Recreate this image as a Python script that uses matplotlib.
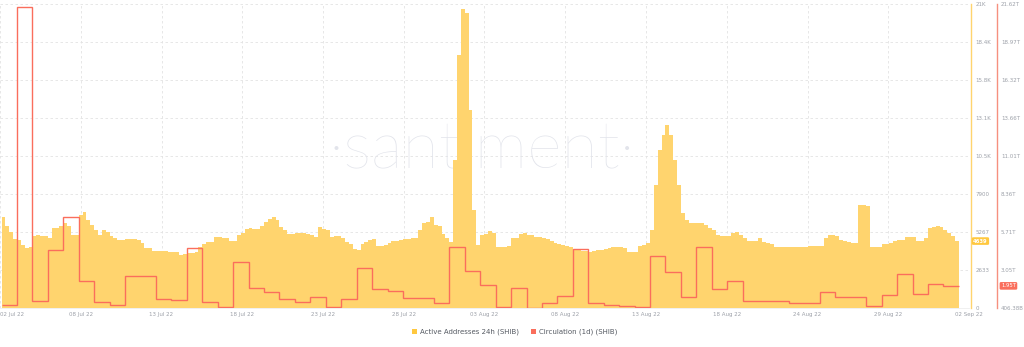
import matplotlib
matplotlib.use("Agg")
import matplotlib.pyplot as plt
import numpy as np
from matplotlib.patches import Rectangle

# ---------------- data ----------------
x_tick_labels = ["02 Jul 22", "08 Jul 22", "13 Jul 22", "18 Jul 22", "23 Jul 22", "28 Jul 22",
                 "03 Aug 22", "08 Aug 22", "13 Aug 22", "18 Aug 22", "24 Aug 22", "29 Aug 22",
                 "02 Sep 22"]

aa_tick_labels = ["0", "2633", "5267", "7900", "10.5K", "13.1K", "15.8K", "18.4K", "21K"]
circ_tick_labels = ["406.38B", "3.05T", "5.71T", "8.36T", "11.01T", "13.66T", "16.32T", "18.97T", "21.62T"]

# Active Addresses 24h (SHIB), 6-hour bars (4 per day, 62 days)
active_addresses = [
    6300, 5650, 5270, 4780,   4710, 4370, 4160, 4230,   4990, 5060, 4990, 4990,
    4850, 5540, 5540, 5680,   5890, 5680, 5060, 5060,   6450, 6650, 6100, 5750,
    5400, 5060, 5400, 5270,   4990, 4850, 4710, 4710,   4780, 4780, 4780, 4710,
    4500, 4160, 4160, 3950,   3950, 3950, 3950, 3880,   3880, 3880, 3670, 3740,
    3810, 3810, 3880, 4230,   4440, 4570, 4570, 4920,   4920, 4850, 4850, 4640,
    4640, 5060, 5200, 5470,   5540, 5470, 5470, 5680,   5960, 6170, 6310, 6100,
    5610, 5400, 5130, 5130,   5200, 5200, 5200, 5130,   5060, 4920, 5610, 5470,
    5400, 4920, 4990, 4990,   4850, 4570, 4440, 4090,   4020, 4440, 4570, 4710,
    4780, 4300, 4300, 4370,   4500, 4640, 4640, 4710,   4780, 4780, 4850, 4850,
    5400, 5890, 5960, 6310,   5750, 5680, 5130, 4850,   4570, 10260, 17530, 20720,
    20440, 13720, 6790, 4370, 5060, 5130, 5340, 5200,   4230, 4230, 4230, 4300,
    4850, 4850, 5130, 5200,   5060, 5060, 4920, 4920,   4850, 4780, 4640, 4500,
    4440, 4370, 4300, 4230,   4090, 4020, 3950, 3950,   3880, 3950, 4020, 4020,
    4090, 4160, 4230, 4230,   4230, 4160, 3880, 3880,   3880, 4300, 4370, 4500,
    5400, 8520, 10950, 11990, 12680, 11990, 10260, 8520, 6580, 6100, 5890, 5890,
    5890, 5890, 5750, 5540,   5400, 5060, 4990, 4990,   4990, 5200, 5270, 5060,
    4850, 4640, 4640, 4640,   4850, 4570, 4500, 4440,   4230, 4230, 4230, 4230,
    4230, 4230, 4230, 4230,   4230, 4300, 4300, 4300,   4300, 4850, 5060, 5060,
    4990, 4710, 4640, 4570,   4500, 4500, 7140, 7140,   7070, 4230, 4230, 4230,
    4440, 4440, 4500, 4640,   4710, 4710, 4920, 4920,   4920, 4640, 4640, 4850,
    5540, 5610, 5680, 5610,   5400, 5200, 4990, 4639,
]

# Circulation (1d) (SHIB), in trillions, one value per day
circulation_T = [
    0.62, 21.40, 0.90, 4.45, 6.75, 2.29, 0.83, 0.62, 2.64, 2.64,
    1.03, 0.96, 4.59, 0.83, 0.48, 3.61, 1.80, 1.52, 1.03, 0.83,
    1.17, 0.48, 1.03, 3.20, 1.73, 1.59, 1.10, 1.10, 0.76, 4.66,
    2.99, 2.01, 0.48, 1.80, 0.41, 0.76, 1.24, 4.52, 0.76, 0.62,
    0.55, 0.48, 4.03, 2.92, 1.17, 4.66, 1.73, 2.29, 0.90, 0.90,
    0.90, 0.76, 0.76, 1.52, 1.17, 1.17, 0.55, 1.31, 2.78, 1.38,
    2.08, 1.95,
]

# ---------------- styling ----------------
YELLOW = "#FFD46E"
YELLOW_BOX = "#FFC83F"
RED = "#FA6E5C"
RED_AXIS = "#F6907F"
GRAY = "#9da1a9"
W, H = 1024, 347

fig = plt.figure(figsize=(W / 100, H / 100), dpi=100)
ax = fig.add_axes([0, 39 / H, 969 / W, 304 / H])
ax2 = ax.twinx()
ax.set_zorder(1)
ax2.set_zorder(2)
ax2.patch.set_visible(False)

n_days = len(circulation_T)
per_day = len(active_addresses) // n_days
xb = np.arange(len(active_addresses)) / per_day + 0.5 / per_day

ax.bar(xb, active_addresses, width=1 / per_day, color=YELLOW, linewidth=0, zorder=2)
ax.set_xlim(-0.1, 62.62)
aa_max = 21067
ax.set_ylim(0, aa_max)
ax.set_yticks(np.linspace(0, aa_max, len(aa_tick_labels)), aa_tick_labels)

# watermark
ax.text(0.497, 0.52, "\u00b7santiment\u00b7", transform=ax.transAxes, ha="center", va="center",
        fontsize=48, color="#e2e4eb", family="Lato", fontweight="light", zorder=1)

# grid
ax.set_axisbelow(True)
ax.grid(True, color="#e3e3e3", linestyle=(0, (3, 3)), linewidth=0.6)

xt = (np.arange(len(x_tick_labels)) * 80.8 - 1.55) / 15.45
ax.set_xticks(xt, x_tick_labels)
ax.tick_params(axis="x", length=0, pad=3, labelsize=4, labelcolor=GRAY)
ax.get_xticklabels()[0].set_horizontalalignment("left")

ax.yaxis.tick_right()
ax.yaxis.set_label_position("right")
ax.tick_params(axis="y", which="both", left=False, labelleft=False, right=True, labelright=True,
               length=0, pad=3, labelsize=4, labelcolor=GRAY)
for s in ["left", "top"]:
    ax.spines[s].set_visible(False)
ax.spines["bottom"].set_color("#eeeeee")
ax.spines["bottom"].set_linewidth(0.6)
ax.spines["right"].set_visible(True)
ax.spines["right"].set_position(("outward", 1.5))
ax.spines["right"].set_color(YELLOW)
ax.spines["right"].set_linewidth(1.0)

# circulation axis
cmin = 0.40638
cstep = 2.6505
ax2.set_ylim(cmin, cmin + cstep * (len(circ_tick_labels) - 1))
ax2.stairs(circulation_T, np.arange(n_days + 1), color=RED, linewidth=1.0, baseline=None, zorder=3)
ax2.set_yticks(cmin + cstep * np.arange(len(circ_tick_labels)), circ_tick_labels)
ax2.tick_params(axis="y", length=0, pad=3, labelsize=4, labelcolor=GRAY)
for s in ["left", "top", "bottom"]:
    ax2.spines[s].set_visible(False)
ax2.spines["right"].set_position(("outward", 20))
ax2.spines["right"].set_color(RED_AXIS)
ax2.spines["right"].set_linewidth(1.0)

# current value badges
ax2.annotate(f"{active_addresses[-1]}", xy=(1, active_addresses[-1] / aa_max), xycoords="axes fraction",
             xytext=(3, 0), textcoords="offset points", ha="left", va="center", fontsize=3.8,
             color="white", fontweight="bold",
             bbox=dict(boxstyle="round,pad=0.25", fc=YELLOW_BOX, ec="none"), zorder=10,
             annotation_clip=False)
ax2.annotate(f"{circulation_T[-1]:.2f}T", xy=(1, circulation_T[-1]), xycoords=("axes fraction", "data"),
             xytext=(23, 0), textcoords="offset points", ha="left", va="center", fontsize=3.8,
             color="white",
             bbox=dict(boxstyle="round,pad=0.25", fc=RED, ec="none"), zorder=10,
             annotation_clip=False)

# legend
def legend_item(x_px, color, label):
    fig.add_artist(Rectangle((x_px / W, (H - 334) / H), 5 / W, 5 / H, transform=fig.transFigure,
                             color=color, linewidth=0))
    fig.text((x_px + 8) / W, (H - 331.5) / H, label, fontsize=5, color="#555a62",
             ha="left", va="center")

legend_item(412, YELLOW_BOX, "Active Addresses 24h (SHIB)")
legend_item(531, RED, "Circulation (1d) (SHIB)")

fig.savefig("out.png", dpi=100)
